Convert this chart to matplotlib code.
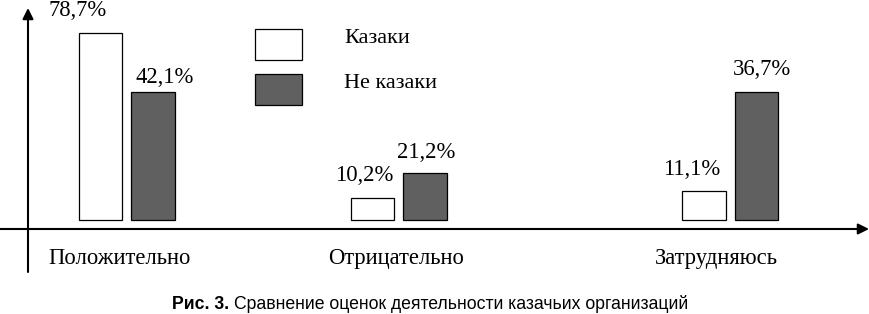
import matplotlib.pyplot as plt

## ************      data       *********************
categories = ["Положительно", "Отрицательно", "Затрудняюсь"]
series = ["Казаки", "Не казаки"]
labels_kaz = ["78,7%", "10,2%", "11,1%"]
labels_ne = ["42,1%", "21,2%", "36,7%"]
# bar heights as drawn in the original figure (not to scale with the labels)
heights_kaz = [78.7, 9.3, 12.2]
heights_ne = [53.9, 19.8, 53.9]
caption_bold = "Рис. 3."
caption = "Сравнение оценок деятельности казачьих организаций"

## ************      layout (pixels)       *********************
W, H = 869, 314
base = 220          # bar baseline, px from top
px = 187 / 78.7     # px per unit
centers = [126.5, 398.5, 730]
bw = 43.5
off = 26.25
dx_kaz = [-23, -8, -12]
dx_ne = [12, 1, 6]
gap_kaz = [17, 17, 16]
gap_ne = [9, 15, 17]

def py(p):
    return (base - p) / px

serif = ["Liberation Serif", "DejaVu Serif"]
sans = ["Liberation Sans", "DejaVu Sans"]

fig = plt.figure(figsize=(W / 100, H / 100), dpi=100)
ax = fig.add_axes([0, 0, 1, 1])
ax.set_xlim(0, W)
ax.set_ylim(py(H), py(0))
ax.axis("off")

x_kaz = [c - off for c in centers]
x_ne = [c + off for c in centers]
ax.bar(x_kaz, heights_kaz, width=bw, color="white", edgecolor="black", linewidth=0.9, zorder=3)
ax.bar(x_ne, heights_ne, width=bw, color="#606060", edgecolor="black", linewidth=0.9, zorder=3)

for i in range(len(categories)):
    ax.text(x_kaz[i] + dx_kaz[i], heights_kaz[i] + gap_kaz[i] / px, labels_kaz[i],
            ha="center", va="baseline", fontsize=16.3, family=serif)
    ax.text(x_ne[i] + dx_ne[i], heights_ne[i] + gap_ne[i] / px, labels_ne[i],
            ha="center", va="baseline", fontsize=16.3, family=serif)

cat_x = [120, 396, 716]
for x, c in zip(cat_x, categories):
    ax.text(x, py(264), c, ha="center", va="baseline", fontsize=16.3, family=serif)

# axes with arrows
ax.annotate("", xy=(869, py(229)), xytext=(0, py(229)),
            arrowprops=dict(arrowstyle="-|>", lw=1.5, color="black", mutation_scale=16,
                            shrinkA=0, shrinkB=0))
ax.annotate("", xy=(28, py(8)), xytext=(28, py(272)),
            arrowprops=dict(arrowstyle="-|>", lw=1.5, color="black", mutation_scale=16,
                            shrinkA=0, shrinkB=0))

# legend drawn by hand
ax.bar([278.5], [31 / px], bottom=py(60), width=47, color="white", edgecolor="black", linewidth=0.9)
ax.bar([278.5], [31 / px], bottom=py(105), width=47, color="#606060", edgecolor="black", linewidth=0.9)
ax.text(344, py(43), series[0], ha="left", va="baseline", fontsize=16, family=serif)
ax.text(344, py(88), series[1], ha="left", va="baseline", fontsize=16, family=serif)

# caption
t1 = fig.text(172 / W, 1 - 309 / H, caption_bold, ha="left", va="baseline",
              fontsize=12.7, fontweight="bold", family=sans)
fig.canvas.draw()
bb = t1.get_window_extent()
fig.text((bb.x1 + 5) / W, 1 - 309 / H, caption, ha="left", va="baseline",
         fontsize=12.7, family=sans)

fig.savefig("out.png", dpi=100)
